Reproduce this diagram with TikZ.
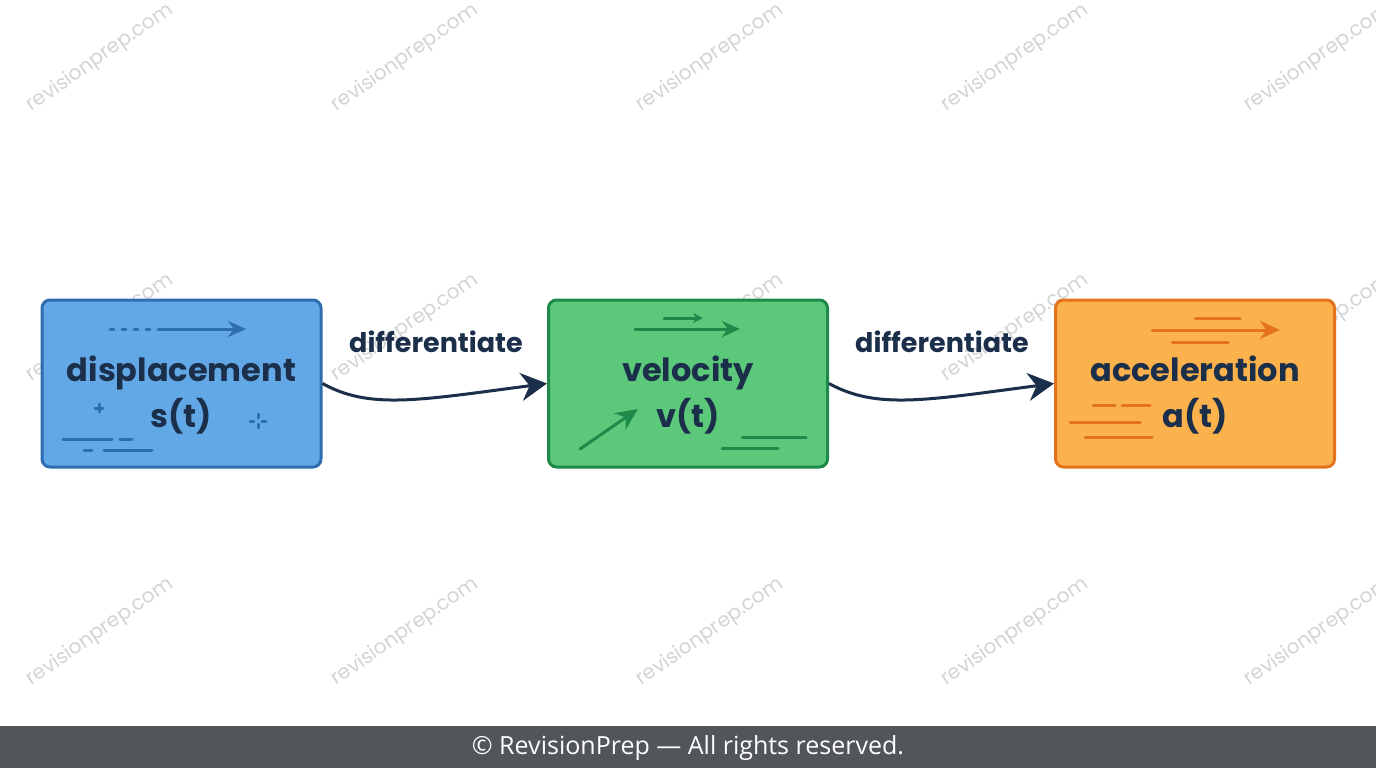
\documentclass[tikz,border=0pt]{standalone}
\usepackage{fontspec}
\setmainfont{Poppins}
\newfontfamily\foot{Open Sans}
\usetikzlibrary{arrows.meta}
\definecolor{navy}{HTML}{1B2F4B}
\definecolor{bfill}{HTML}{63A8E6}\definecolor{bdraw}{HTML}{2E6DB0}
\definecolor{gfill}{HTML}{5CC97A}\definecolor{gdraw}{HTML}{1E8A4A}
\definecolor{ofill}{HTML}{FBB24C}\definecolor{odraw}{HTML}{E5731E}
\definecolor{wm}{HTML}{D4D4D4}
\definecolor{footbg}{HTML}{525559}
\begin{document}
\begin{tikzpicture}[x=1pt,y=-1pt,
 box/.style={rounded corners=8pt,line width=3pt,minimum width=279pt,minimum height=167pt},
 txt/.style={text=navy,font=\fontsize{32}{46}\selectfont\bfseries,align=center},
 lbl/.style={text=navy,font=\fontsize{27}{30}\selectfont\bfseries},
 conn/.style={navy,line width=3pt,-{Stealth[length=26pt,width=28pt]}},
 deco/.style={line width=3pt,line cap=round},
 wmk/.style={text=wm,rotate=35,font=\fontsize{20}{24}\selectfont}]
\useasboundingbox (0,0) rectangle (1376,768);
\fill[white] (0,0) rectangle (1376,768);
\foreach \x in {100,405,710,1015,1318}{
 \foreach \y in {58,328,632}{\node[wmk] at (\x,\y) {revisionprep.com};}}
\node[box,fill=bfill,draw=bdraw] (s) at (181.5,383.5) {};
\node[box,fill=gfill,draw=gdraw] (v) at (688,383.5) {};
\node[box,fill=ofill,draw=odraw] (a) at (1195,383.5) {};
\node[txt] (st) at (181.5,395) {displacement\\s(t)};
\node[txt] (vt) at (688,395) {velocity\\v(t)};
\node[txt] (at) at (1195,395) {acceleration\\a(t)};
% blue deco
\begin{scope}[bdraw,deco]
\draw[dash pattern=on 4pt off 8pt] (110,329)--(150,329);
\draw[-{Stealth[length=18pt,width=16pt]}] (158,329)--(246,329);
\draw (99,404)--(99,412) (95,408)--(103,408);
\draw (258,414)--(258,418) (258,424)--(258,428) (250,421)--(254,421) (262,421)--(266,421);
\draw (63,439)--(112,439) (120,439)--(132,439);
\draw (84,450)--(92,450) (104,450)--(152,450);
\end{scope}
% green deco
\begin{scope}[gdraw,deco]
\draw[-{Stealth[length=10pt,width=10pt]}] (664,318)--(703,318);
\draw[-{Stealth[length=18pt,width=16pt]}] (635,329)--(740,329);
\draw[-{Stealth[length=22pt,width=20pt]}] (580,449)--(638,409);
\draw (742,437)--(806,437) (722,448)--(778,448);
\end{scope}
% orange deco
\begin{scope}[odraw,deco]
\draw (1195,318)--(1240,318);
\draw[-{Stealth[length=20pt,width=18pt]}] (1152,330)--(1280,330);
\draw (1172,342)--(1228,342);
\draw (1093,405)--(1115,405) (1122,405)--(1150,405);
\draw (1070,422)--(1140,422);
\draw (1085,437)--(1152,437);
\end{scope}
% connectors
\draw[conn] (s.east) .. controls (370,410) and (420,400) .. (v.west);
\draw[conn] (v.east) .. controls (877,410) and (927,400) .. (a.west);
\node[lbl] (l1) at (436,342) {differentiate};
\node[lbl] (l2) at (942,342) {differentiate};
% footer
\fill[footbg] (0,726) rectangle (1376,768);
\node[text=white,font=\foot\fontsize{25}{28}\selectfont] (f) at (688,748) {© RevisionPrep — All rights reserved.};
\end{tikzpicture}
\end{document}
